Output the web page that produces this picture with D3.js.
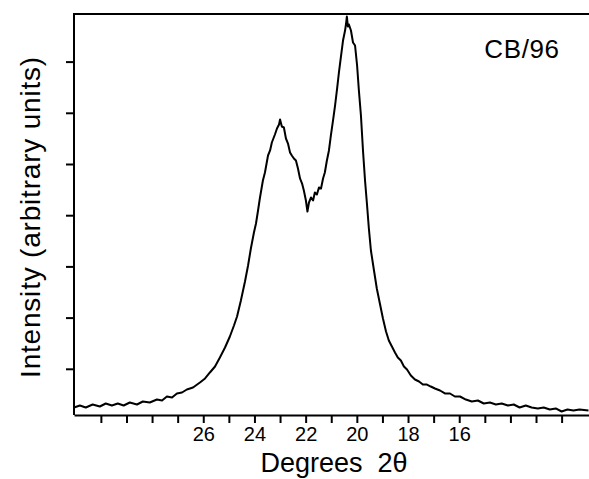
<!DOCTYPE html>
<html>
<head>
<meta charset="utf-8">
<script src="https://cdn.jsdelivr.net/npm/d3@7"></script>
<style>
  body { margin: 0; background: #fff; }
  text { font-family: "Liberation Sans", Arial, Helvetica, sans-serif; fill: #000; }
</style>
</head>
<body>
<div id="chart"></div>
<script>
const WIDTH = 589
const HEIGHT = 479

// diffraction trace: degrees 2θ
const degrees = [
    31.05, 30.82, 30.59, 30.32, 30.04, 29.81, 29.57, 29.34, 29.11, 28.87,
    28.59, 28.36, 28.09, 27.81, 27.61, 27.42, 27.22, 27.03, 26.83, 26.64,
    26.40, 26.13, 25.93, 25.74, 25.54, 25.35, 25.15, 24.96, 24.80, 24.68,
    24.53, 24.37, 24.25, 24.14, 24.02, 23.94, 23.86, 23.79, 23.67, 23.59,
    23.47, 23.39, 23.32, 23.20, 23.12, 23.04, 23.00, 22.93, 22.85, 22.77,
    22.69, 22.61, 22.54, 22.46, 22.38, 22.30, 22.22, 22.14, 22.07, 21.99,
    21.93, 21.87, 21.79, 21.71, 21.64, 21.56, 21.48, 21.40, 21.32, 21.25,
    21.17, 21.09, 21.01, 20.93, 20.85, 20.77, 20.70, 20.62, 20.54, 20.46,
    20.42, 20.39, 20.35, 20.31, 20.23, 20.15, 20.07, 19.99, 19.92, 19.84,
    19.76, 19.68, 19.60, 19.53, 19.45, 19.33, 19.22, 19.10, 18.98, 18.86,
    18.75, 18.63, 18.51, 18.40, 18.28, 18.16, 18.04, 17.89, 17.73, 17.57,
    17.42, 17.26, 17.11, 16.95, 16.75, 16.56, 16.36, 16.17, 15.97, 15.74,
    15.51, 15.27, 15.04, 14.80, 14.57, 14.34, 14.10, 13.87, 13.64, 13.40,
    13.17, 12.93, 12.70, 12.46, 12.23, 12.00, 11.77, 11.54, 11.30, 10.95
]

// intensity, arbitrary units (one unit = one tick on the left axis)
const intensity = [
    0.244, 0.283, 0.244, 0.303, 0.264, 0.322, 0.283, 0.322, 0.283, 0.342,
    0.303, 0.361, 0.342, 0.400, 0.381, 0.459, 0.439, 0.518, 0.537, 0.596,
    0.635, 0.732, 0.811, 0.928, 1.045, 1.221, 1.416, 1.631, 1.846, 2.021,
    2.334, 2.705, 3.018, 3.350, 3.662, 3.838, 4.092, 4.326, 4.678, 4.834,
    5.166, 5.264, 5.420, 5.576, 5.693, 5.771, 5.869, 5.732, 5.713, 5.498,
    5.400, 5.225, 5.166, 5.107, 5.068, 4.912, 4.717, 4.619, 4.482, 4.287,
    4.072, 4.248, 4.346, 4.287, 4.443, 4.404, 4.541, 4.521, 4.717, 4.834,
    5.068, 5.264, 5.576, 5.850, 6.143, 6.475, 6.787, 7.100, 7.412, 7.607,
    7.744, 7.881, 7.686, 7.725, 7.607, 7.373, 7.314, 6.924, 6.436, 5.947,
    5.264, 4.678, 4.189, 3.740, 3.311, 2.920, 2.568, 2.275, 1.982, 1.729,
    1.553, 1.436, 1.318, 1.221, 1.162, 1.045, 0.986, 0.869, 0.791, 0.752,
    0.693, 0.693, 0.654, 0.615, 0.576, 0.518, 0.518, 0.459, 0.459, 0.400,
    0.361, 0.381, 0.322, 0.342, 0.303, 0.322, 0.283, 0.303, 0.244, 0.283,
    0.244, 0.225, 0.244, 0.205, 0.225, 0.166, 0.205, 0.186, 0.205, 0.186
]

const xTicks = [30, 29, 28, 27, 26, 25, 24, 23, 22, 21, 20, 19, 18, 17, 16, 15, 14, 13, 12]
const xLabels = [26, 24, 22, 20, 18, 16]
const yTicks = [1, 2, 3, 4, 5, 6, 7]

const plotLeft = 74
const plotTop = 14
const plotBottom = 415

const svg = d3.select('#chart')
    .append('svg')
    .attr('width', WIDTH)
    .attr('height', HEIGHT)

const xScale = d3
    .scaleLinear()
    .domain([31.05, 10.93])
    .range([plotLeft, WIDTH])

const yScale = d3
    .scaleLinear()
    .domain([0, 8])
    .range([420, 10.4])

// frame: top line
svg.append('line')
    .attr('x1', plotLeft)
    .attr('x2', WIDTH)
    .attr('y1', plotTop)
    .attr('y2', plotTop)
    .attr('stroke', '#000')
    .attr('stroke-width', 2)

const xAxis = svg.append('g')
    .attr('transform', `translate(0, ${plotBottom})`)
    .call(d3.axisBottom(xScale)
        .tickValues(xTicks)
        .tickSize(8)
        .tickSizeOuter(0)
        .tickFormat(d => xLabels.includes(d) ? d : ''))
xAxis.select('.domain').attr('stroke-width', 2)
xAxis.selectAll('.tick line').attr('stroke-width', 2)
xAxis.selectAll('.tick text')
    .attr('y', 12)
    .attr('dy', '0.71em')
    .style('font-size', '20px')
    .style('font-family', '"Liberation Sans", Arial, sans-serif')

const yAxis = svg.append('g')
    .attr('transform', `translate(${plotLeft}, 0)`)
    .call(d3.axisLeft(yScale)
        .tickValues(yTicks)
        .tickSize(8)
        .tickSizeOuter(0)
        .tickFormat(''))
yAxis.select('.domain')
    .attr('d', `M0,${plotTop - 1}V${plotBottom}`)
    .attr('stroke-width', 2)
yAxis.selectAll('.tick line').attr('stroke-width', 2)

const points = d3.zip(degrees, intensity)

const line = d3.line()
    .x(d => xScale(d[0]))
    .y(d => yScale(d[1]))

svg.append('path')
    .datum(points)
    .attr('fill', 'none')
    .attr('stroke', '#000')
    .attr('stroke-width', 2)
    .attr('stroke-linejoin', 'round')
    .attr('d', line)

svg.append('text')
    .attr('x', 334)
    .attr('y', 472)
    .attr('text-anchor', 'middle')
    .style('font-size', '27px')
    .style('white-space', 'pre')
    .text('Degrees  2θ')

svg.append('text')
    .attr('transform', 'translate(40, 217) rotate(-90)')
    .attr('text-anchor', 'middle')
    .style('font-size', '28px')
    .style('letter-spacing', '0.8px')
    .text('Intensity (arbitrary units)')

svg.append('text')
    .attr('x', 522)
    .attr('y', 58)
    .attr('text-anchor', 'middle')
    .style('font-size', '26px')
    .style('letter-spacing', '0.6px')
    .text('CB/96')
</script>
</body>
</html>
